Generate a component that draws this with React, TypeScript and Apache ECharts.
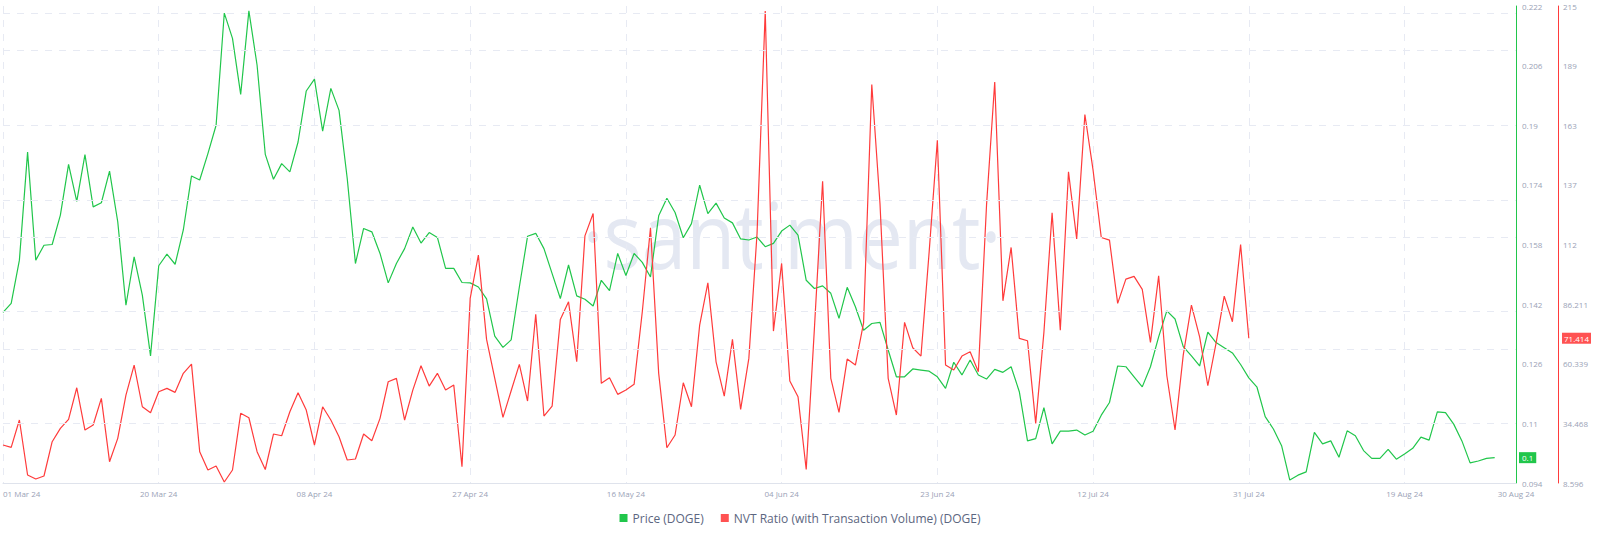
import React, { useEffect, useRef } from "react";
import * as echarts from "echarts";

// ---------- data ----------
const xTickLabels = [
  "01 Mar 24", "20 Mar 24", "08 Apr 24", "27 Apr 24", "16 May 24",
  "04 Jun 24", "23 Jun 24", "12 Jul 24", "31 Jul 24", "19 Aug 24", "30 Aug 24",
];
const dayStep = 19; // days between x ticks (day index from 01 Mar 24)
const xMaxDay = 184.6;

const priceTicks = [0.094, 0.11, 0.126, 0.142, 0.158, 0.174, 0.19, 0.206, 0.222];
const nvtTicks = [8.596, 34.468, 60.339, 86.211, 112.082, 137.954, 163.825, 189.697, 215.568];
const nvtTickLabels = ["8.596", "34.468", "60.339", "86.211", "112", "137", "163", "189", "215"];

// Price (DOGE), daily from 01 Mar 24 to 30 Aug 24
const price = [
  0.1398, 0.1422, 0.1538, 0.1828, 0.1538, 0.1578, 0.1580, 0.1659, 0.1795, 0.1696,
  0.1821, 0.1681, 0.1692, 0.1777, 0.1641, 0.1417, 0.1547, 0.1444, 0.1281, 0.1523,
  0.1554, 0.1527, 0.1619, 0.1764, 0.1753, 0.1824, 0.1900, 0.2201, 0.2133, 0.1983,
  0.2207, 0.2061, 0.1822, 0.1755, 0.1797, 0.1775, 0.1855, 0.1992, 0.2024, 0.1884,
  0.1999, 0.1940, 0.1757, 0.1529, 0.1623, 0.1614, 0.1556, 0.1477, 0.1529, 0.1569,
  0.1627, 0.1584, 0.1612, 0.1599, 0.1516, 0.1516, 0.1478, 0.1477, 0.1466, 0.1434,
  0.1334, 0.1304, 0.1324, 0.1466, 0.1602, 0.1610, 0.1569, 0.1502, 0.1435, 0.1525,
  0.1442, 0.1433, 0.1415, 0.1484, 0.1456, 0.1556, 0.1497, 0.1556, 0.1532, 0.1493,
  0.1657, 0.1704, 0.1666, 0.1598, 0.1636, 0.1739, 0.1663, 0.1691, 0.1651, 0.1638,
  0.1595, 0.1592, 0.1600, 0.1574, 0.1583, 0.1616, 0.1632, 0.1605, 0.1484, 0.1462,
  0.1469, 0.1449, 0.1382, 0.1465, 0.1413, 0.1350, 0.1368, 0.1371, 0.1297, 0.1225,
  0.1225, 0.1246, 0.1243, 0.1240, 0.1225, 0.1194, 0.1264, 0.1230, 0.1270, 0.1230,
  0.1219, 0.1245, 0.1237, 0.1252, 0.1185, 0.1053, 0.1059, 0.1142, 0.1045, 0.1079,
  0.1079, 0.1082, 0.1069, 0.1079, 0.1122, 0.1156, 0.1254, 0.1252, 0.1225, 0.1198,
  0.1252, 0.1332, 0.1402, 0.1380, 0.1306, 0.1281, 0.1254, 0.1345, 0.1317, 0.1303,
  0.1289, 0.1258, 0.1222, 0.1197, 0.1118, 0.1085, 0.1040, 0.0948, 0.0961, 0.0970,
  0.1076, 0.1045, 0.1053, 0.1009, 0.1080, 0.1067, 0.1027, 0.1006, 0.1006, 0.1030,
  0.1004, 0.1018, 0.1033, 0.1063, 0.1055, 0.1131, 0.1129, 0.1098, 0.1053, 0.0994,
  0.0999, 0.1006, 0.1008,
];

// NVT Ratio (with Transaction Volume) (DOGE), daily from 01 Mar 24 to 31 Jul 24
const nvt = [
  25.08, 24.08, 35.92, 12.07, 10.33, 11.63, 26.51, 32.32, 36.22, 49.92,
  31.58, 33.75, 45.33, 17.84, 27.98, 46.76, 59.77, 41.68, 39.08, 48.19,
  49.66, 47.93, 56.17, 60.2, 22.17, 14.24, 15.97, 9.03, 14.24, 38.82,
  36.91, 22.17, 14.45, 29.85, 29.11, 39.52, 47.76, 40.25, 25.08, 41.68,
  35.92, 28.68, 18.57, 19.01, 29.85, 26.94, 36.65, 52.53, 54.0, 35.92,
  48.92, 59.46, 50.66, 56.17, 48.92, 51.09, 15.67, 88.69, 107.47, 70.91,
  54.0, 37.09, 48.62, 60.07, 44.16, 81.75, 37.65, 41.99, 79.58, 87.22,
  61.2, 115.84, 125.55, 51.83, 54.26, 47.06, 48.92, 51.4, 82.88, 119.3,
  56.17, 23.91, 29.41, 52.09, 41.68, 77.11, 95.45, 61.2, 46.32, 70.91,
  40.56, 62.67, 116.88, 213.4, 74.51, 103.87, 52.83, 46.02, 14.45, 75.68,
  139.55, 54.0, 39.26, 62.37, 59.77, 78.11, 181.49, 129.88, 54.0, 38.09,
  78.28, 67.27, 63.67, 108.9, 157.33, 59.77, 57.6, 63.67, 65.53, 56.86,
  129.15, 182.61, 87.65, 110.8, 71.35, 70.3, 34.49, 73.95, 125.81, 74.94,
  143.59, 114.53, 168.48, 144.32, 115.14, 113.97, 86.52, 97.06, 98.23, 92.59,
  69.61, 98.49, 55.13, 31.58, 64.1, 85.78, 72.04, 50.79, 69.18, 89.69,
  78.54, 112.1, 71.414,
];

const seriesNames = ["Price (DOGE)", "NVT Ratio (with Transaction Volume) (DOGE)"];

// ---------- styles ----------
const GREEN = "#21c64b";
const RED = "#ff3b3b";
const RED_BOX = "#ff5252";
const GRID_COLOR = "#e7eaf3";
const LABEL_COLOR = "#9aa2b6";
const FONT = '"Open Sans", "Noto Sans", sans-serif';

export default function App() {
  const ref = useRef<HTMLDivElement>(null);

  useEffect(() => {
    if (!ref.current) return;
    document.body.style.margin = "0";
    const chart = echarts.init(ref.current, undefined, { renderer: "svg" });

    const option: any = {
      animation: false,
      textStyle: { fontFamily: FONT },
      grid: { left: 0, right: 84, top: 6, bottom: 59, containLabel: false },
      legend: {
        data: seriesNames,
        bottom: 13,
        left: "center",
        icon: "rect",
        itemWidth: 8,
        itemHeight: 8,
        itemGap: 17,
        textStyle: { color: "#5c6680", fontSize: 12, fontFamily: FONT },
      },
      xAxis: {
        type: "value",
        min: 0,
        max: xMaxDay,
        interval: dayStep,
        axisLine: { show: true, onZero: false, lineStyle: { color: "#dfe3ec" } },
        axisTick: { show: false },
        splitLine: { show: true, lineStyle: { color: GRID_COLOR, type: [7, 7] } },
        axisLabel: {
          color: LABEL_COLOR,
          fontSize: 8,
          margin: 6,
          alignMinLabel: "left",
          showMaxLabel: true,
          formatter: (v: number) => {
            if (v > xMaxDay - 1) return xTickLabels[xTickLabels.length - 1];
            const idx = Math.round(v / dayStep);
            return xTickLabels[idx] ?? "";
          },
        },
      },
      yAxis: [
        {
          type: "value",
          position: "right",
          min: priceTicks[0],
          max: priceTicks[priceTicks.length - 1],
          axisLine: { show: true, onZero: false, lineStyle: { color: GREEN, width: 1 } },
          axisTick: { show: false },
          splitLine: { show: false },
          axisLabel: {
            customValues: priceTicks,
            color: LABEL_COLOR,
            fontSize: 8,
            margin: 6,
            formatter: (v: number) => String(v),
          },
        },
        {
          type: "value",
          position: "right",
          offset: 42,
          min: nvtTicks[0],
          max: nvtTicks[nvtTicks.length - 1],
          axisLine: { show: true, onZero: false, lineStyle: { color: RED, width: 1 } },
          axisTick: { show: false },
          splitLine: { show: false },
          axisLabel: {
            customValues: nvtTicks,
            color: LABEL_COLOR,
            fontSize: 8,
            margin: 5,
            formatter: (v: number) => {
              let best = 0;
              nvtTicks.forEach((t, i) => {
                if (Math.abs(t - v) < Math.abs(nvtTicks[best] - v)) best = i;
              });
              return nvtTickLabels[best];
            },
          },
        },
      ],
      series: [
        {
          // horizontal dashed gridlines at the price ticks
          type: "line",
          yAxisIndex: 0,
          data: [],
          silent: true,
          z: 1,
          markLine: {
            silent: true,
            symbol: ["none", "none"],
            label: { show: false },
            lineStyle: { color: GRID_COLOR, type: [7, 7], width: 1 },
            emphasis: { disabled: true },
            data: priceTicks.slice(1).map((v) => ({ yAxis: v })),
          },
        },
        {
          name: seriesNames[0],
          type: "line",
          yAxisIndex: 0,
          data: price.map((v, i) => [i, v]),
          showSymbol: false,
          symbol: "none",
          lineStyle: { color: GREEN, width: 1.2 },
          itemStyle: { color: GREEN },
          z: 3,
        },
        {
          name: seriesNames[1],
          type: "line",
          yAxisIndex: 1,
          data: nvt.map((v, i) => [i, v]),
          showSymbol: false,
          symbol: "none",
          lineStyle: { color: RED, width: 1.2 },
          itemStyle: { color: RED_BOX },
          z: 4,
        },
      ],
      graphic: [
        {
          id: "wm",
          type: "text",
          x: 792,
          y: 233,
          scaleY: 1.15,
          z: 0,
          silent: true,
          style: {
            text: "·santiment·",
            fill: "#e4e8f2",
            font: '80px "Open Sans", sans-serif',
            textAlign: "center",
            textVerticalAlign: "middle",
          },
        },
      ],
    };

    chart.setOption(option);

    const lastPrice = price[price.length - 1];
    const lastNvt = nvt[nvt.length - 1];
    const py = chart.convertToPixel({ yAxisIndex: 0 }, lastPrice) as number;
    const ny = chart.convertToPixel({ yAxisIndex: 1 }, lastNvt) as number;
    const gx = chart.convertToPixel({ xAxisIndex: 0 }, xMaxDay) as number;

    chart.setOption({
      graphic: [
        option.graphic[0],
        {
          id: "priceLast",
          type: "text",
          x: gx + 3,
          y: py,
          z: 10,
          style: {
            text: String(Number(lastPrice.toPrecision(2))),
            fill: "#ffffff",
            font: '8px "Open Sans", sans-serif',
            backgroundColor: GREEN,
            padding: [2, 3, 1, 3],
            textVerticalAlign: "middle",
          },
        },
        {
          id: "nvtLast",
          type: "text",
          x: gx + 46,
          y: ny,
          z: 10,
          style: {
            text: lastNvt.toFixed(3),
            fill: "#ffffff",
            font: '8px "Open Sans", sans-serif',
            backgroundColor: RED_BOX,
            padding: [2, 2, 1, 2],
            textVerticalAlign: "middle",
          },
        },
      ],
    });

    return () => chart.dispose();
  }, []);

  return (
    <div
      ref={ref}
      style={{ position: "fixed", left: 0, top: 0, width: 1600, height: 542, background: "#fff" }}
    />
  );
}
